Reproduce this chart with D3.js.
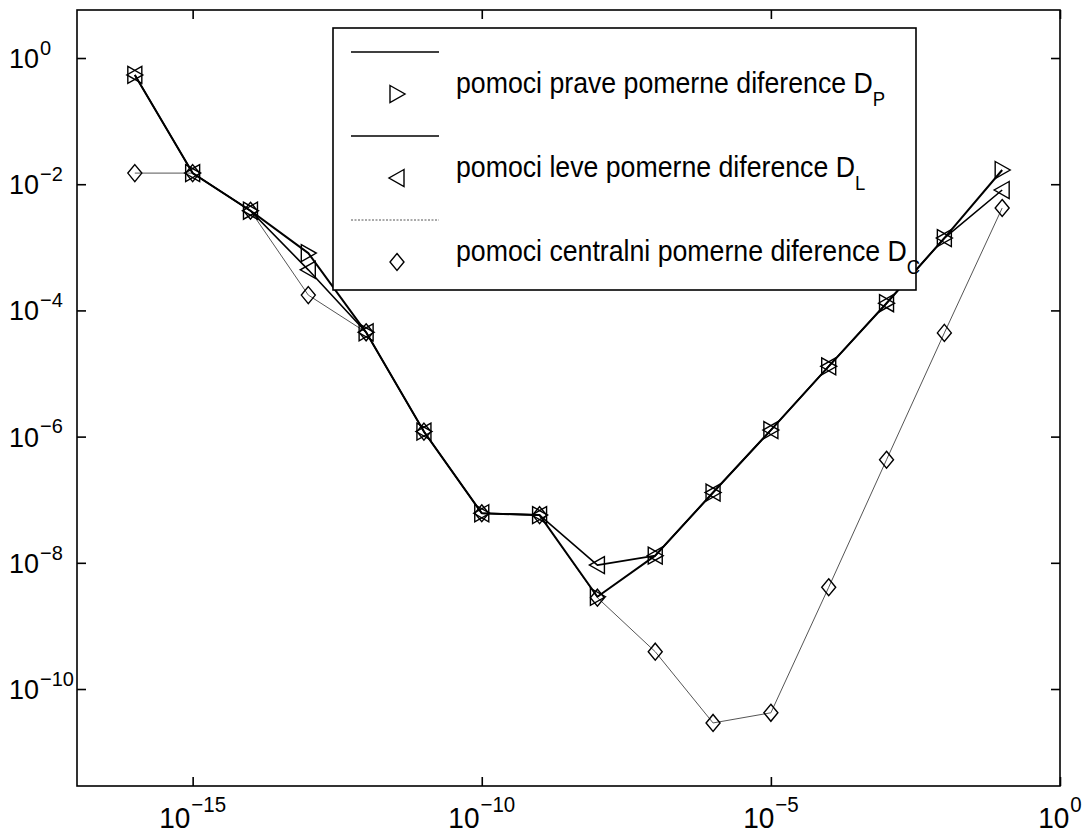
<!DOCTYPE html>
<html>
<head>
<meta charset="utf-8">
<script src="https://cdn.jsdelivr.net/npm/d3@7"></script>
<style>
  html, body { margin: 0; padding: 0; background: #fff; }
  svg { display: block; }
  text { font-family: Arial, "Liberation Sans", Helvetica, sans-serif; font-stretch: normal; fill: #000; }
</style>
</head>
<body>
<svg id="chart" width="1085" height="836"></svg>
<script>
// ---- data ----
const hValues = [1e-16, 1e-15, 1e-14, 1e-13, 1e-12, 1e-11, 1e-10, 1e-9, 1e-8, 1e-7, 1e-6, 1e-5, 1e-4, 1e-3, 1e-2, 1e-1];
const errRight = [0.54, 0.015, 0.0038, 8.1e-4, 4.5e-5, 1.2e-6, 6.1e-8, 5.7e-8, 2.9e-9, 1.3e-8, 1.3e-7, 1.27e-6, 1.3e-5, 1.3e-4, 1.4e-3, 0.0168];
const errLeft  = [0.54, 0.015, 0.0038, 4.4e-4, 4.5e-5, 1.2e-6, 6.1e-8, 5.7e-8, 9.2e-9, 1.3e-8, 1.3e-7, 1.27e-6, 1.3e-5, 1.3e-4, 1.4e-3, 0.0081];
const errCentral = [0.015, 0.015, 0.0038, 1.75e-4, 4.5e-5, 1.2e-6, 6.1e-8, 5.7e-8, 2.8e-9, 3.9e-10, 2.9e-11, 4.2e-11, 4.1e-9, 4.3e-7, 4.4e-5, 0.0042];
const xTickExps = [-15, -10, -5, 0];
const yTickExps = [0, -2, -4, -6, -8, -10];
const legendLabels = ["pomoci prave pomerne diference D", "pomoci leve pomerne diference D", "pomoci centralni pomerne diference D"];
const legendSubs = ["P", "L", "C"];

// ---- layout ----
const svg = d3.select("#chart");
const X0 = 77, X1 = 1060, Y0 = 10, Y1 = 786;
const SY = 1.13;  // vertical stretch of legend text in the reference
const SYT = 1.05; // vertical stretch of tick labels

const x = d3.scaleLog().domain([1e-17, 1]).range([X0, X1]);
const y = d3.scaleLog().domain([Math.pow(10, -11.537), Math.pow(10, 0.761)]).range([Y1, Y0]);

// frame
svg.append("rect").attr("x", X0).attr("y", Y0).attr("width", X1 - X0).attr("height", Y1 - Y0)
  .attr("fill", "none").attr("stroke", "#000").attr("stroke-width", 1.6);

// axes ticks (inner, all four sides) via d3 axes
const xt = xTickExps.map(e => Math.pow(10, e));
const yt = yTickExps.map(e => Math.pow(10, e));
const tickLen = 9;
function styleAxis(g) {
  g.select(".domain").remove();
  g.selectAll(".tick line").attr("stroke", "#000").attr("stroke-width", 1.6);
  g.selectAll(".tick text").remove();
}
svg.append("g").attr("transform", `translate(0,${Y1})`)
  .call(d3.axisBottom(x).tickValues(xt).tickSizeInner(-tickLen).tickSizeOuter(0)).call(styleAxis);
svg.append("g").attr("transform", `translate(0,${Y0})`)
  .call(d3.axisTop(x).tickValues(xt).tickSizeInner(-tickLen).tickSizeOuter(0)).call(styleAxis);
svg.append("g").attr("transform", `translate(${X0},0)`)
  .call(d3.axisLeft(y).tickValues(yt).tickSizeInner(-tickLen).tickSizeOuter(0)).call(styleAxis);
svg.append("g").attr("transform", `translate(${X1},0)`)
  .call(d3.axisRight(y).tickValues(yt).tickSizeInner(-tickLen).tickSizeOuter(0)).call(styleAxis);

function expText(e) { return (e < 0 ? "\u2212" : "") + Math.abs(e); }

// y tick labels (left aligned)
yTickExps.forEach(e => {
  const ty = y(Math.pow(10, e));
  const t = svg.append("text")
    .attr("transform", `translate(9,${ty + 10}) scale(1,${SYT})`)
    .attr("font-size", 27);
  t.append("tspan").text("10");
  t.append("tspan").attr("dy", -12.5).attr("dx", 1).attr("font-size", 20).text(expText(e));
});

// x tick labels (centred)
xTickExps.forEach(e => {
  const tx = x(Math.pow(10, e));
  const t = svg.append("text")
    .attr("transform", `translate(${tx},${828}) scale(1,${SYT})`)
    .attr("text-anchor", "middle")
    .attr("font-size", 28);
  t.append("tspan").text("10");
  t.append("tspan").attr("dy", -15).attr("dx", 1).attr("font-size", 20.5).text(expText(e));
});

// markers
const markerShapes = {
  right: "M-7,-8.5L8,0L-7,8.5Z",
  left: "M7,-8.5L-8,0L7,8.5Z",
  diamond: "M0,-8.5L7,0L0,8.5L-7,0Z"
};

const series = [
  { vals: errCentral, shape: "diamond", stroke: "#555", width: 1.0 },
  { vals: errLeft, shape: "left", stroke: "#000", width: 1.6 },
  { vals: errRight, shape: "right", stroke: "#000", width: 2.0 }
];

const line = d3.line().x(d => x(d[0])).y(d => y(d[1]));

series.forEach(s => {
  const pts = hValues.map((h, i) => [h, s.vals[i]]);
  svg.append("path").datum(pts).attr("d", line)
    .attr("fill", "none").attr("stroke", s.stroke).attr("stroke-width", s.width)
    .attr("stroke-linejoin", "round");
});
series.forEach(s => {
  const pts = hValues.map((h, i) => [h, s.vals[i]]);
  svg.append("g").selectAll("path").data(pts).join("path")
    .attr("transform", d => `translate(${x(d[0])},${y(d[1])})`)
    .attr("d", markerShapes[s.shape])
    .attr("fill", "none").attr("stroke", "#000").attr("stroke-width", 1.4)
    .attr("stroke-linejoin", "miter");
});

// legend
const LX0 = 333, LX1 = 916, LY0 = 28, LY1 = 290;
svg.append("rect").attr("x", LX0).attr("y", LY0).attr("width", LX1 - LX0).attr("height", LY1 - LY0)
  .attr("fill", "#fff").attr("stroke", "#000").attr("stroke-width", 1.6);

const legendItems = [
  { label: legendLabels[0], sub: legendSubs[0], shape: "right", stroke: "#000", width: 1.6, dash: null },
  { label: legendLabels[1], sub: legendSubs[1], shape: "left", stroke: "#000", width: 1.4, dash: null },
  { label: legendLabels[2], sub: legendSubs[2], shape: "diamond", stroke: "#555", width: 1.0, dash: "2,1.5" }
];
legendItems.forEach((it, i) => {
  const ly = 52 + i * 84;
  const my = 94 + i * 84;
  svg.append("line").attr("x1", 351).attr("x2", 439).attr("y1", ly).attr("y2", ly)
    .attr("stroke", it.stroke).attr("stroke-width", it.width)
    .attr("stroke-dasharray", it.dash);
  svg.append("path").attr("transform", `translate(397,${my})`).attr("d", markerShapes[it.shape])
    .attr("fill", "none").attr("stroke", "#000").attr("stroke-width", 1.4);
  const t = svg.append("text")
    .attr("transform", `translate(456,${my - 1}) scale(1,${SY})`)
    .attr("font-size", 26.7);
  t.append("tspan").text(it.label);
  t.append("tspan").attr("dy", 11.5).attr("font-size", 18.5).text(it.sub);
});
</script>
</body>
</html>
